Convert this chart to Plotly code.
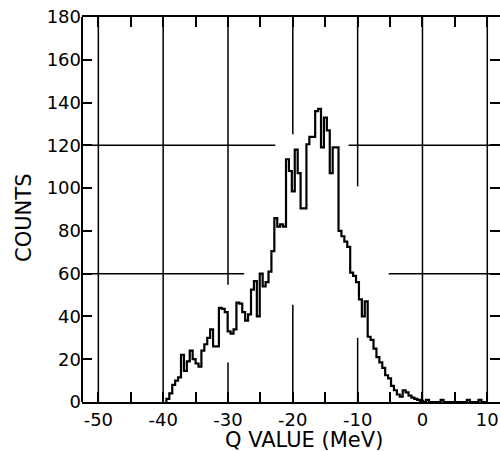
import plotly.graph_objects as go

# Histogram: Q value bins (MeV), uniform width, and counts per bin
bin_start = -39.5
bin_width = 0.45
counts = [
    1.5, 4, 8, 10, 11.5, 22, 14.5, 19, 24, 20,
    18, 16.5, 24, 27, 30, 34, 26, 26, 44, 43.5,
    42, 33, 32, 34, 46.5, 46, 42, 38, 41, 52.5,
    56.5, 40, 60, 54, 56, 61, 70.5, 86, 82, 83,
    82, 113.5, 108, 98.5, 118, 107, 90.5, 90.5, 120.5, 124,
    124, 136, 137, 119, 133, 127, 107, 119, 119, 80,
    77.5, 75, 72.5, 60.5, 59, 56, 48, 40, 47, 30.5,
    29, 25, 21, 18.5, 16, 12.5, 11, 7.5, 5.5, 3.5,
    2.5, 5.5, 4.5, 3, 2, 1.5, 1, 0.5, 0, 1,
    0, 0, 0, 0, 1, 0, 0, 0, 0, 0,
    0, 0, 0, 1, 0, 0, 0, 1, 0, 0,
]

x_tick_vals = [-50, -45, -40, -35, -30, -25, -20, -15, -10, -5, 0, 5, 10]
x_tick_text = ["-50", "", "-40", "", "-30", "", "-20", "", "-10", "", "0", "", "10"]
y_tick_vals = [0, 20, 40, 60, 80, 100, 120, 140, 160, 180]

X_RANGE = [-52.52, 11.96]
Y_RANGE = [0, 180]

edges = [bin_start + i * bin_width for i in range(len(counts) + 1)]
xs = [edges[0]] + edges
ys = [0] + counts + [counts[-1]]

fig = go.Figure()
fig.add_trace(go.Scatter(
    x=xs, y=ys, mode="lines", line=dict(shape="hv", color="black", width=2.2),
    hoverinfo="skip", showlegend=False,
))

shapes = []
def seg(x0, y0, x1, y1, w=1.5):
    shapes.append(dict(type="line", xref="x", yref="y", x0=x0, y0=y0, x1=x1, y1=y1,
                       line=dict(color="black", width=w), layer="below"))

# vertical grid lines (some interrupted around the data)
for xv in [-50, -40, 0, 10]:
    seg(xv, 0, xv, 180)
seg(-30, 54.8, -30, 180); seg(-30, 0, -30, 18.5)
seg(-20, 125.2, -20, 180); seg(-20, 0, -20, 45.5)
seg(-10, 100.8, -10, 180); seg(-10, 0, -10, 30)
# horizontal grid lines
seg(X_RANGE[0], 60, -27.5, 60); seg(-5.2, 60, X_RANGE[1], 60)
seg(X_RANGE[0], 120, -22.7, 120); seg(-11.4, 120, X_RANGE[1], 120)
# left frame line
shapes.append(dict(type="line", xref="paper", yref="paper", x0=0, x1=0, y0=0, y1=1,
                   line=dict(color="black", width=2)))

font_ticks = dict(family="DejaVu Sans", size=18, color="black")
fig.update_layout(
    width=500, height=451,
    margin=dict(l=82, r=0, t=17, b=49, pad=0),
    paper_bgcolor="white", plot_bgcolor="white",
    shapes=shapes,
    xaxis=dict(range=X_RANGE, showgrid=False, zeroline=False, showline=True,
               linecolor="black", linewidth=2, mirror="ticks",
               ticks="inside", ticklen=10, tickwidth=1.5, tickcolor="black",
               tickmode="array", tickvals=x_tick_vals, ticktext=x_tick_text,
               tickfont=font_ticks),
    yaxis=dict(range=Y_RANGE, showgrid=False, zeroline=False, showline=False,
               mirror="ticks", ticks="inside", ticklen=10, tickwidth=1.5,
               tickcolor="black", tickmode="array", tickvals=y_tick_vals,
               tickfont=font_ticks),
    annotations=[
        dict(text="COUNTS", xref="paper", yref="paper", x=-0.1388, y=0.478,
             textangle=-90, showarrow=False, xanchor="center", yanchor="middle",
             font=dict(family="DejaVu Sans", size=21, color="black")),
        dict(text="Q VALUE (MeV)", xref="paper", yref="paper", x=0.531, y=-0.0987,
             showarrow=False, xanchor="center", yanchor="middle",
             font=dict(family="DejaVu Sans", size=21, color="black")),
    ],
)

fig.write_html("out.html")
